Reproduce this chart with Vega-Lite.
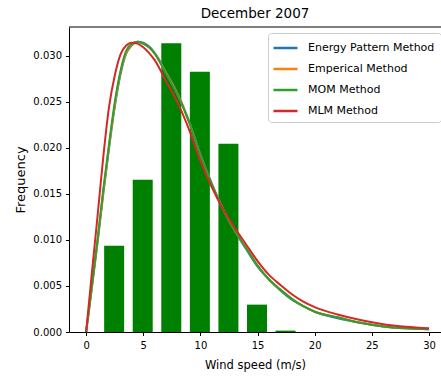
{
  "$schema": "https://vega.github.io/schema/vega-lite/v6.json",
  "autosize": "none",
  "width": 372,
  "height": 305,
  "padding": {"left": 69, "top": 27, "right": 0, "bottom": 49},
  "background": "white",
  "config": {
    "font": "DejaVu Sans",
    "view": {"stroke": null},
    "axis": {"grid": false, "domainColor": "#000000", "tickColor": "#000000", "labelColor": "#000000", "titleColor": "#000000", "labelFontSize": 10, "tickSize": 3.5, "titleFontWeight": "normal"}
  },
  "title": {"text": "December 2007", "fontSize": 13.5, "fontWeight": "normal", "color": "#000000", "offset": 6, "anchor": "middle"},
  "datasets": {
    "bars": [
      {"start": 1.575, "end": 3.325, "freq": 0.00935},
      {"start": 4.075, "end": 5.825, "freq": 0.01652},
      {"start": 6.575, "end": 8.325, "freq": 0.03134},
      {"start": 9.075, "end": 10.825, "freq": 0.02823},
      {"start": 11.575, "end": 13.325, "freq": 0.02043},
      {"start": 14.075, "end": 15.825, "freq": 0.00297},
      {"start": 16.575, "end": 18.325, "freq": 0.00015}
    ],
    "curves": [
      {"method": "Energy Pattern Method", "speed": 0, "freq": 0},
      {"method": "Energy Pattern Method", "speed": 0.5, "freq": 0.0048},
      {"method": "Energy Pattern Method", "speed": 1, "freq": 0.0097},
      {"method": "Energy Pattern Method", "speed": 1.5, "freq": 0.0150},
      {"method": "Energy Pattern Method", "speed": 2, "freq": 0.0199},
      {"method": "Energy Pattern Method", "speed": 2.5, "freq": 0.0244},
      {"method": "Energy Pattern Method", "speed": 3, "freq": 0.0279},
      {"method": "Energy Pattern Method", "speed": 3.5, "freq": 0.0302},
      {"method": "Energy Pattern Method", "speed": 4, "freq": 0.0311},
      {"method": "Energy Pattern Method", "speed": 4.5, "freq": 0.0315},
      {"method": "Energy Pattern Method", "speed": 5, "freq": 0.0314},
      {"method": "Energy Pattern Method", "speed": 5.5, "freq": 0.0310},
      {"method": "Energy Pattern Method", "speed": 6, "freq": 0.0303},
      {"method": "Energy Pattern Method", "speed": 7, "freq": 0.0282},
      {"method": "Energy Pattern Method", "speed": 8, "freq": 0.0259},
      {"method": "Energy Pattern Method", "speed": 9, "freq": 0.0229},
      {"method": "Energy Pattern Method", "speed": 10, "freq": 0.0193},
      {"method": "Energy Pattern Method", "speed": 11, "freq": 0.0161},
      {"method": "Energy Pattern Method", "speed": 12, "freq": 0.0133},
      {"method": "Energy Pattern Method", "speed": 13, "freq": 0.0110},
      {"method": "Energy Pattern Method", "speed": 14, "freq": 0.0090},
      {"method": "Energy Pattern Method", "speed": 15, "freq": 0.0071},
      {"method": "Energy Pattern Method", "speed": 16, "freq": 0.0057},
      {"method": "Energy Pattern Method", "speed": 17, "freq": 0.0045},
      {"method": "Energy Pattern Method", "speed": 18, "freq": 0.0035},
      {"method": "Energy Pattern Method", "speed": 19, "freq": 0.0028},
      {"method": "Energy Pattern Method", "speed": 20, "freq": 0.0022},
      {"method": "Energy Pattern Method", "speed": 22, "freq": 0.0015},
      {"method": "Energy Pattern Method", "speed": 24, "freq": 0.0010},
      {"method": "Energy Pattern Method", "speed": 26, "freq": 0.0006},
      {"method": "Energy Pattern Method", "speed": 28, "freq": 0.0004},
      {"method": "Energy Pattern Method", "speed": 30, "freq": 0.0003},
      {"method": "Emperical Method", "speed": 0, "freq": 0},
      {"method": "Emperical Method", "speed": 0.5, "freq": 0.0049},
      {"method": "Emperical Method", "speed": 1, "freq": 0.0099},
      {"method": "Emperical Method", "speed": 1.5, "freq": 0.0152},
      {"method": "Emperical Method", "speed": 2, "freq": 0.0201},
      {"method": "Emperical Method", "speed": 2.5, "freq": 0.0246},
      {"method": "Emperical Method", "speed": 3, "freq": 0.0281},
      {"method": "Emperical Method", "speed": 3.5, "freq": 0.0303},
      {"method": "Emperical Method", "speed": 4, "freq": 0.0312},
      {"method": "Emperical Method", "speed": 4.5, "freq": 0.0315},
      {"method": "Emperical Method", "speed": 5, "freq": 0.0313},
      {"method": "Emperical Method", "speed": 5.5, "freq": 0.0309},
      {"method": "Emperical Method", "speed": 6, "freq": 0.0302},
      {"method": "Emperical Method", "speed": 7, "freq": 0.0281},
      {"method": "Emperical Method", "speed": 8, "freq": 0.0258},
      {"method": "Emperical Method", "speed": 9, "freq": 0.0228},
      {"method": "Emperical Method", "speed": 10, "freq": 0.0192},
      {"method": "Emperical Method", "speed": 11, "freq": 0.0160},
      {"method": "Emperical Method", "speed": 12, "freq": 0.0133},
      {"method": "Emperical Method", "speed": 13, "freq": 0.0110},
      {"method": "Emperical Method", "speed": 14, "freq": 0.0091},
      {"method": "Emperical Method", "speed": 15, "freq": 0.0072},
      {"method": "Emperical Method", "speed": 16, "freq": 0.0057},
      {"method": "Emperical Method", "speed": 17, "freq": 0.0046},
      {"method": "Emperical Method", "speed": 18, "freq": 0.0036},
      {"method": "Emperical Method", "speed": 19, "freq": 0.0028},
      {"method": "Emperical Method", "speed": 20, "freq": 0.0022},
      {"method": "Emperical Method", "speed": 22, "freq": 0.0016},
      {"method": "Emperical Method", "speed": 24, "freq": 0.0010},
      {"method": "Emperical Method", "speed": 26, "freq": 0.0006},
      {"method": "Emperical Method", "speed": 28, "freq": 0.0004},
      {"method": "Emperical Method", "speed": 30, "freq": 0.0003},
      {"method": "MOM Method", "speed": 0, "freq": 0},
      {"method": "MOM Method", "speed": 0.5, "freq": 0.0050},
      {"method": "MOM Method", "speed": 1, "freq": 0.0101},
      {"method": "MOM Method", "speed": 1.5, "freq": 0.0155},
      {"method": "MOM Method", "speed": 2, "freq": 0.0204},
      {"method": "MOM Method", "speed": 2.5, "freq": 0.0249},
      {"method": "MOM Method", "speed": 3, "freq": 0.0283},
      {"method": "MOM Method", "speed": 3.5, "freq": 0.0305},
      {"method": "MOM Method", "speed": 4, "freq": 0.0313},
      {"method": "MOM Method", "speed": 4.5, "freq": 0.0315},
      {"method": "MOM Method", "speed": 5, "freq": 0.0313},
      {"method": "MOM Method", "speed": 5.5, "freq": 0.0309},
      {"method": "MOM Method", "speed": 6, "freq": 0.0302},
      {"method": "MOM Method", "speed": 7, "freq": 0.0280},
      {"method": "MOM Method", "speed": 8, "freq": 0.0257},
      {"method": "MOM Method", "speed": 9, "freq": 0.0228},
      {"method": "MOM Method", "speed": 10, "freq": 0.0192},
      {"method": "MOM Method", "speed": 11, "freq": 0.0160},
      {"method": "MOM Method", "speed": 12, "freq": 0.0133},
      {"method": "MOM Method", "speed": 13, "freq": 0.0110},
      {"method": "MOM Method", "speed": 14, "freq": 0.0091},
      {"method": "MOM Method", "speed": 15, "freq": 0.0072},
      {"method": "MOM Method", "speed": 16, "freq": 0.0057},
      {"method": "MOM Method", "speed": 17, "freq": 0.0046},
      {"method": "MOM Method", "speed": 18, "freq": 0.0036},
      {"method": "MOM Method", "speed": 19, "freq": 0.0028},
      {"method": "MOM Method", "speed": 20, "freq": 0.0022},
      {"method": "MOM Method", "speed": 22, "freq": 0.0016},
      {"method": "MOM Method", "speed": 24, "freq": 0.0010},
      {"method": "MOM Method", "speed": 26, "freq": 0.0006},
      {"method": "MOM Method", "speed": 28, "freq": 0.0004},
      {"method": "MOM Method", "speed": 30, "freq": 0.0003},
      {"method": "MLM Method", "speed": 0, "freq": 0},
      {"method": "MLM Method", "speed": 0.5, "freq": 0.0064},
      {"method": "MLM Method", "speed": 1, "freq": 0.0126},
      {"method": "MLM Method", "speed": 1.5, "freq": 0.0190},
      {"method": "MLM Method", "speed": 2, "freq": 0.0244},
      {"method": "MLM Method", "speed": 2.5, "freq": 0.0278},
      {"method": "MLM Method", "speed": 3, "freq": 0.0301},
      {"method": "MLM Method", "speed": 3.5, "freq": 0.0311},
      {"method": "MLM Method", "speed": 4, "freq": 0.0314},
      {"method": "MLM Method", "speed": 4.5, "freq": 0.0313},
      {"method": "MLM Method", "speed": 5, "freq": 0.0309},
      {"method": "MLM Method", "speed": 5.5, "freq": 0.0303},
      {"method": "MLM Method", "speed": 6, "freq": 0.0295},
      {"method": "MLM Method", "speed": 7, "freq": 0.0272},
      {"method": "MLM Method", "speed": 8, "freq": 0.0249},
      {"method": "MLM Method", "speed": 9, "freq": 0.0220},
      {"method": "MLM Method", "speed": 10, "freq": 0.0186},
      {"method": "MLM Method", "speed": 11, "freq": 0.0157},
      {"method": "MLM Method", "speed": 12, "freq": 0.0133},
      {"method": "MLM Method", "speed": 13, "freq": 0.0113},
      {"method": "MLM Method", "speed": 14, "freq": 0.0095},
      {"method": "MLM Method", "speed": 15, "freq": 0.0077},
      {"method": "MLM Method", "speed": 16, "freq": 0.0062},
      {"method": "MLM Method", "speed": 17, "freq": 0.0051},
      {"method": "MLM Method", "speed": 18, "freq": 0.0041},
      {"method": "MLM Method", "speed": 19, "freq": 0.0033},
      {"method": "MLM Method", "speed": 20, "freq": 0.0027},
      {"method": "MLM Method", "speed": 22, "freq": 0.0019},
      {"method": "MLM Method", "speed": 24, "freq": 0.0013},
      {"method": "MLM Method", "speed": 26, "freq": 0.00085},
      {"method": "MLM Method", "speed": 28, "freq": 0.00057},
      {"method": "MLM Method", "speed": 30, "freq": 0.0004}
    ]
  },
  "layer": [
    {
      "data": {"name": "bars"},
      "mark": {"type": "rect", "color": "#008000"},
      "encoding": {
        "x": {"field": "start", "type": "quantitative", "scale": {"domain": [-1.5, 31.05], "nice": false, "zero": false},
              "axis": {"values": [0, 5, 10, 15, 20, 25, 30], "title": "Wind speed (m/s)", "titleFontSize": 11.5, "labelPadding": 5, "titlePadding": 9, "format": "d"}},
        "x2": {"field": "end"},
        "y": {"field": "freq", "type": "quantitative", "scale": {"domain": [0, 0.0331], "nice": false},
              "axis": {"values": [0, 0.005, 0.01, 0.015, 0.02, 0.025, 0.03], "format": ".3f", "title": "Frequency", "titleFontSize": 13, "labelPadding": 4, "titlePadding": 5}},
        "y2": {"datum": 0}
      }
    },
    {
      "data": {"name": "curves"},
      "mark": {"type": "line", "strokeWidth": 2, "interpolate": "monotone"},
      "encoding": {
        "x": {"field": "speed", "type": "quantitative"},
        "y": {"field": "freq", "type": "quantitative"},
        "color": {"field": "method", "type": "nominal",
          "scale": {"domain": ["Energy Pattern Method", "Emperical Method", "MOM Method", "MLM Method"], "range": ["#1f77b4", "#ff7f0e", "#2ca02c", "#d62728"]},
          "legend": {"title": null, "orient": "none", "legendX": 199, "legendY": 6, "symbolType": "M-1.27,0H1.93", "symbolSize": 225, "symbolStrokeWidth": 2.5, "labelFontSize": 11, "labelColor": "#000000", "labelOffset": 16, "rowPadding": 7, "padding": 6, "fillColor": "white", "strokeColor": "#cccccc", "cornerRadius": 3}
        }
      }
    },
    {
      "data": {"values": [{"top": 0.0331}]},
      "mark": {"type": "rule", "color": "#000000", "strokeWidth": 1},
      "encoding": {"y": {"field": "top", "type": "quantitative"}}
    }
  ]
}
